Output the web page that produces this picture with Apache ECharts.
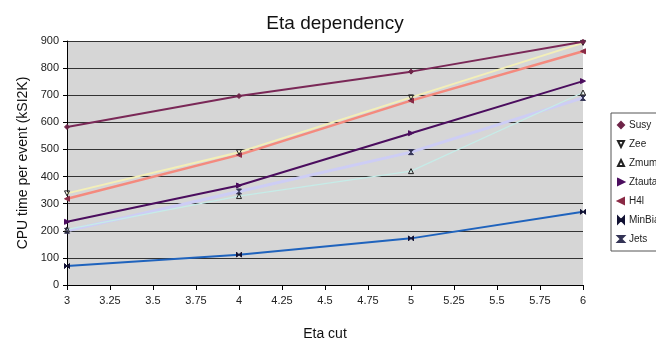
<!DOCTYPE html>
<html>
<head>
<meta charset="utf-8">
<script src="https://cdn.jsdelivr.net/npm/echarts@6/dist/echarts.min.js"></script>
<style>
  html, body { margin: 0; padding: 0; background: #fff; }
  #chart { width: 656px; height: 343px; }
</style>
</head>
<body>
<div id="chart"></div>
<script>
// eta cut values
var etaCuts = [3, 4, 5, 6];
var seriesNames = ['Susy', 'Zee', 'Zmum', 'Ztautau', 'H4l', 'MinBias', 'Jets'];
// CPU time per event (kSI2K)
var susy = [583, 697, 787, 897];
var zee = [338, 490, 692, 893];
var zmum = [205, 328, 420, 710];
var ztautau = [233, 367, 560, 752];
var h4l = [318, 480, 680, 862];
var minBias = [70, 112, 172, 270];
var jets = [200, 345, 490, 690];

var valueList = [susy, zee, zmum, ztautau, h4l, minBias, jets];

var lineColors = ['#7a2857', '#f3efb8', '#c6ece8', '#4b0d5e', '#f48a7e', '#1f63bd', '#cdcdf5'];
var lineWidths = [2, 2, 1.2, 2, 2.5, 2, 3];
var markers = [
  'diamond',
  'path://M0,0 L10,0 L5,10 Z',
  'path://M5,0 L10,10 L0,10 Z',
  'path://M0,0 L10,5 L0,10 Z',
  'path://M10,0 L10,10 L0,5 Z',
  'path://M0,0 L0,10 L5,5 Z M10,0 L10,10 L5,5 Z',
  'path://M0,0 L10,0 L5,5 Z M0,10 L10,10 L5,5 Z'
];
var markerColors = ['#6e2448', 'transparent', 'transparent', '#4b0d5e', '#8a2a45', '#111133', '#333355'];
var markerBorders = ['#6e2448', '#222', '#222', '#4b0d5e', '#8a2a45', '#111133', '#333355'];

var chart = echarts.init(document.getElementById('chart'));

var series = [];
for (var i = 0; i < seriesNames.length; i++) {
  series.push({
    name: seriesNames[i],
    type: 'line',
    data: etaCuts.map(function (x, j) { return [x, valueList[i][j]]; }),
    symbol: markers[i],
    symbolSize: 5,
    showAllSymbol: true,
    lineStyle: { color: lineColors[i], width: lineWidths[i] },
    itemStyle: { color: markerColors[i], borderColor: markerBorders[i], borderWidth: 1 },
    z: 10 - i
  });
}

var option = {
  backgroundColor: '#fff',
  animation: false,
  textStyle: { fontFamily: 'Liberation Sans, Arial, sans-serif' },
  title: {
    text: 'Eta dependency',
    left: 330,
    textAlign: 'center',
    top: 9,
    textStyle: { fontSize: 19, fontWeight: 'normal', color: '#111' }
  },
  legend: {
    orient: 'vertical',
    left: 611,
    top: 113,
    padding: [7, 8, 7, 6],
    itemGap: 9,
    itemWidth: 6,
    itemHeight: 6,
    backgroundColor: '#fff',
    borderColor: '#555',
    borderWidth: 1,
    textStyle: { fontSize: 10, color: '#222' },
    data: seriesNames.map(function (n, i) {
      return { name: n, icon: markers[i] };
    })
  },
  grid: {
    left: 67,
    right: 73,
    top: 41,
    bottom: 58,
    outerBoundsMode: 'none',
    containLabel: false,
    show: true,
    backgroundColor: '#d6d6d6',
    borderWidth: 0
  },
  xAxis: {
    type: 'value',
    min: 3,
    max: 6,
    interval: 0.25,
    name: 'Eta cut',
    nameLocation: 'middle',
    nameGap: 42,
    nameTextStyle: { fontSize: 14, color: '#111' },
    axisLine: { lineStyle: { color: '#000', width: 1 } },
    axisTick: { show: true, length: 5, lineStyle: { color: '#000' } },
    axisLabel: { fontSize: 11, color: '#222', margin: 10 },
    splitLine: { show: false }
  },
  yAxis: {
    type: 'value',
    min: 0,
    max: 900,
    interval: 100,
    name: 'CPU time per event (kSI2K)',
    nameLocation: 'middle',
    nameGap: 37,
    nameTextStyle: { fontSize: 14, color: '#111' },
    axisLine: { show: true, lineStyle: { color: '#000', width: 1 } },
    axisTick: { show: true, length: 4, lineStyle: { color: '#000' } },
    axisLabel: { fontSize: 11, color: '#222', margin: 8 },
    splitLine: { show: true, lineStyle: { color: '#333', width: 1 } }
  },
  series: series
};

chart.setOption(option);
</script>
</body>
</html>
